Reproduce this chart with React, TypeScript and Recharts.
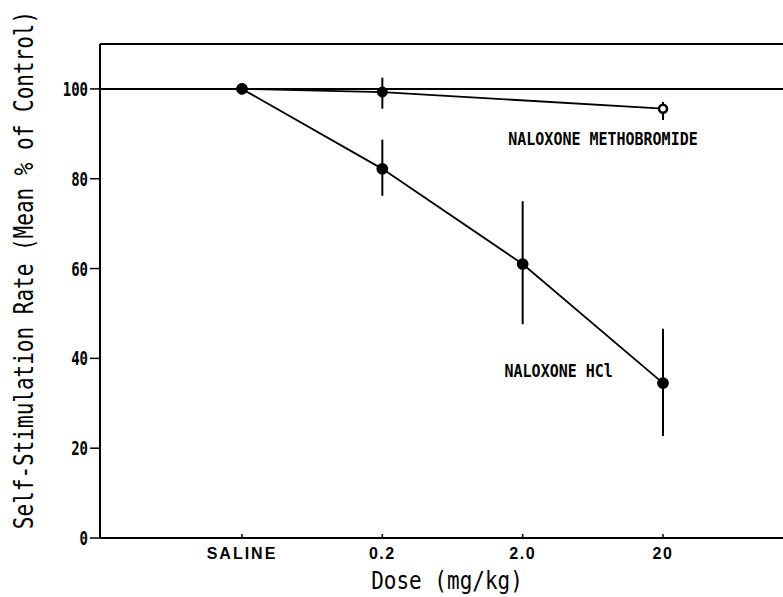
import React from "react";
import {
  ComposedChart,
  Line,
  XAxis,
  YAxis,
  ErrorBar,
  ReferenceLine,
  ReferenceDot,
  Label,
} from "recharts";

const doses = ["SALINE", "0.2", "2.0", "20"];
const hclMean = [100, 82.2, 61.0, 34.5];
const hclErr: [number, number][] = [[0, 0], [6.0, 6.5], [13.4, 14.0], [11.8, 12.1]];
const methoMean = [100, 99.3, null, 95.6];
const methoErr: [number, number][] = [[0, 0], [3.7, 3.2], [0, 0], [2.5, 1.5]];
const yTicks = [0, 20, 40, 60, 80, 100];

const data = doses.map((d, i) => ({
  dose: d,
  hcl: hclMean[i],
  hclErr: hclErr[i],
  metho: methoMean[i],
  methoErr: methoErr[i],
}));

const mono = "'DejaVu Sans Mono', monospace";

const YTick = (props: any) => {
  const { x, y, payload } = props;
  return (
    <g transform={`translate(${x},${y})`}>
      <text
        transform="scale(1,1.4)"
        textAnchor="end"
        dy="0.36em"
        fontFamily={mono}
        fontWeight="bold"
        fontSize={14}
        fill="#000"
      >
        {payload.value}
      </text>
    </g>
  );
};

const XTick = (props: any) => {
  const { x, y, payload } = props;
  return (
    <g>
      <line x1={x} x2={x} y1={y - 4} y2={y} stroke="#000" strokeWidth={1.5} />
      <text
        x={x}
        y={y + 21}
        textAnchor="middle"
        fontFamily="'Liberation Sans', Arial, sans-serif"
        fontWeight="bold"
        fontSize={16}
        letterSpacing={payload.value === "SALINE" ? 2 : 1.5}
        fill="#000"
      >
        {payload.value}
      </text>
    </g>
  );
};

const methoDot = (props: any) => {
  const { cx, cy, index } = props;
  if (cy == null) return <g key={index} />;
  if (index === 3)
    return (
      <circle key={index} cx={cx} cy={cy} r={4} fill="#fff" stroke="#000" strokeWidth={2.5} />
    );
  return <circle key={index} cx={cx} cy={cy} r={5} fill="#000" stroke="#000" />;
};

const annotation = (text: string, dx: number) => ({ viewBox }: any) => (
  <g transform={`translate(${viewBox.x + dx},${viewBox.y})`}>
    <text
      transform="scale(1,1.2)"
      textAnchor="middle"
      dy="0.36em"
      fontFamily={mono}
      fontSize={15}
      fontWeight={600}
      fill="#000"
    >
      {text}
    </text>
  </g>
);

export default function App() {
  return (
    <div
      style={{
        position: "absolute",
        left: 0,
        top: 0,
        width: 783,
        height: 597,
        overflow: "hidden",
        background: "#fff",
      }}
    >
      <ComposedChart
        width={820}
        height={597}
        data={data}
        margin={{ top: 44, right: 30, left: 0, bottom: 0 }}
      >
        <XAxis
          dataKey="dose"
          scale="point"
          padding={{ left: 142, right: 127 }}
          height={59}
          tickSize={0}
          tickMargin={0}
          tickLine={false}
          axisLine={{ stroke: "#000", strokeWidth: 2 }}
          tick={<XTick />}
          interval={0}
        >
          <Label
            content={({ viewBox }: any) => (
              <g transform={`translate(${viewBox.x + viewBox.width / 2 + 2},${viewBox.y + 42})`}>
                <text
                  transform="scale(1,1.22)"
                  textAnchor="middle"
                  dy="0.36em"
                  fontFamily={mono}
                  fontSize={21}
                  fill="#000"
                >
                  Dose (mg/kg)
                </text>
              </g>
            )}
          />
        </XAxis>
        <YAxis
          type="number"
          domain={[0, 110]}
          ticks={yTicks}
          width={100}
          tickSize={10}
          tickMargin={2}
          tickLine={{ stroke: "#000", strokeWidth: 1.5 }}
          axisLine={{ stroke: "#000", strokeWidth: 2 }}
          tick={<YTick />}
          interval={0}
        >
          <Label
            content={({ viewBox }: any) => (
              <g transform={`translate(${viewBox.x + 24},${viewBox.y + viewBox.height / 2 - 21}) rotate(-90)`}>
                <text
                  transform="scale(1,1.25)"
                  textAnchor="middle"
                  dy="0.36em"
                  fontFamily={mono}
                  fontSize={21}
                  fill="#000"
                >
                  Self-Stimulation Rate (Mean % of Control)
                </text>
              </g>
            )}
          />
        </YAxis>
        <ReferenceLine y={110} stroke="#000" strokeWidth={2} />
        <ReferenceLine y={100} stroke="#000" strokeWidth={2} />
        <Line
          dataKey="metho"
          stroke="#000"
          strokeWidth={1.8}
          connectNulls
          dot={methoDot}
          activeDot={false}
          isAnimationActive={false}
        >
          <ErrorBar dataKey="methoErr" width={0} stroke="#000" strokeWidth={2} direction="y" />
        </Line>
        <Line
          dataKey="hcl"
          stroke="#000"
          strokeWidth={1.8}
          dot={{ r: 5, fill: "#000", stroke: "#000" }}
          activeDot={false}
          isAnimationActive={false}
        >
          <ErrorBar dataKey="hclErr" width={0} stroke="#000" strokeWidth={2} direction="y" />
        </Line>
        <ReferenceDot
          x="20"
          y={88.9}
          r={0}
          label={{ content: annotation("NALOXONE METHOBROMIDE", -60) }}
        />
        <ReferenceDot
          x="2.0"
          y={37.2}
          r={0}
          label={{ content: annotation("NALOXONE HCl", 36) }}
        />
      </ComposedChart>
    </div>
  );
}
